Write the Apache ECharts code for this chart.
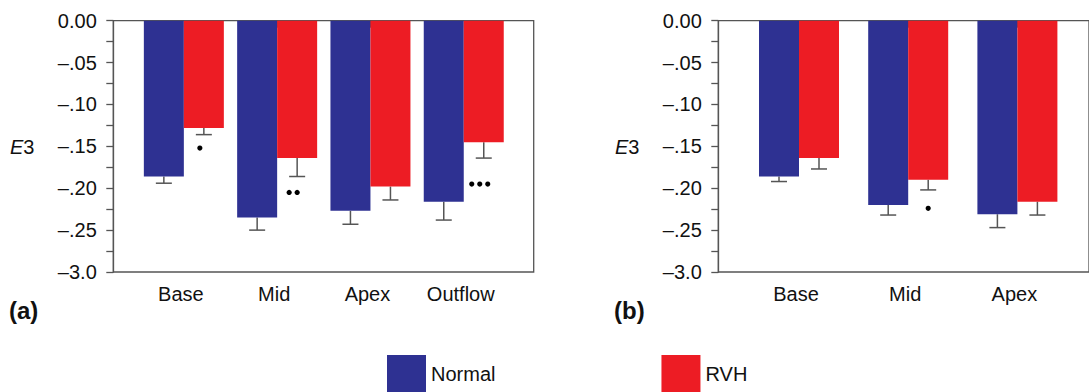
<!DOCTYPE html>
<html>
<head>
<meta charset="utf-8">
<script src="https://cdn.jsdelivr.net/npm/echarts@6/dist/echarts.min.js"></script>
<style>
html, body { margin: 0; padding: 0; background: #fff; }
#chart { width: 1089px; height: 392px; }
</style>
</head>
<body>
<div id="chart"></div>
<script>
// panel (a)
const catsA = ['Base', 'Mid', 'Apex', 'Outflow'];
const normalA = [-0.186, -0.235, -0.227, -0.216];
const normalErrA = [0.008, 0.015, 0.016, 0.022];
const rvhA = [-0.128, -0.164, -0.198, -0.145];
const rvhErrA = [0.008, 0.022, 0.016, 0.019];
const sigCountA = [1, 2, 0, 3];
const sigPosA = [-0.152, -0.205, null, -0.195];

// panel (b)
const catsB = ['Base', 'Mid', 'Apex'];
const normalB = [-0.186, -0.220, -0.231];
const normalErrB = [0.006, 0.012, 0.016];
const rvhB = [-0.164, -0.190, -0.216];
const rvhErrB = [0.013, 0.012, 0.016];
const sigCountB = [0, 1, 0];
const sigPosB = [null, -0.224, null];

const yTickLabels = ['0.00', '–.05', '–.10', '–.15', '–.20', '–.25', '–3.0'];

const BLUE = '#2E3192';
const RED = '#ED1C24';
const LINE = '#555';
const FONT = '"Liberation Sans", Arial, sans-serif';

const chart = echarts.init(document.getElementById('chart'), null, { renderer: 'svg' });

function errorBars(offset) {
	return function (params, api) {
		const i = api.value(0);
		const top = api.coord([i, api.value(1)]);
		const bot = api.coord([i, api.value(1) - api.value(2)]);
		const x = top[0] + offset;
		const style = { stroke: LINE, lineWidth: 1.5 };
		return {
			type: 'group',
			children: [
				{ type: 'line', shape: { x1: x, y1: top[1], x2: x, y2: bot[1] }, style: style },
				{ type: 'line', shape: { x1: x - 8, y1: bot[1], x2: x + 8, y2: bot[1] }, style: style }
			]
		};
	};
}

function sigDots(offset) {
	return function (params, api) {
		const p = api.coord([api.value(0), api.value(1)]);
		const n = api.value(2);
		const children = [];
		for (let k = 0; k < n; k++) {
			children.push({
				type: 'circle',
				shape: { cx: p[0] + offset + (k - (n - 1) / 2) * 8, cy: p[1], r: 2.6 },
				style: { fill: '#000' }
			});
		}
		return { type: 'group', children: children };
	};
}

const errData = (vals, errs) => vals.map((v, i) => [i, v, errs[i]]);
const sigData = (pos, cnt) => pos.map((p, i) => [i, p, cnt[i]]).filter(d => d[1] !== null);

function frameY(gridIndex) {
	return {
		type: 'value', gridIndex: gridIndex, min: -0.3, max: 0, interval: 0.05,
		axisLine: { show: true, lineStyle: { color: LINE, width: 1.3 } },
		axisTick: { show: true, inside: false, length: 7, lineStyle: { color: LINE, width: 1.3 } },
		minorTick: { show: true, splitNumber: 2, length: 7, lineStyle: { color: LINE, width: 1.3 } },
		splitLine: { show: false },
		axisLabel: {
			margin: 16.5, fontSize: 20, fontFamily: FONT, color: '#111',
			formatter: v => yTickLabels[Math.round(-v / 0.05)]
		}
	};
}

function catX(gridIndex, cats) {
	return {
		type: 'category', gridIndex: gridIndex, data: cats,
		axisLine: { show: false },
		axisTick: { show: true, alignWithLabel: true, length: 7, lineStyle: { color: LINE, width: 1.3 } },
		axisLabel: { interval: 0, margin: 12, fontSize: 20, fontFamily: FONT, color: '#111', padding: [0, 6, 0, 0] }
	};
}

const option = {
	backgroundColor: '#fff',
	animation: false,
	grid: [
		{ left: 113.3, top: 20.7, width: 420.4, height: 251.3, show: true, borderColor: LINE, borderWidth: 1.3, backgroundColor: 'transparent' },
		{ left: 137.2, top: 20.7, width: 373.2, height: 251.3 },
		{ left: 718.3, top: 20.7, width: 380, height: 251.3, show: true, borderColor: LINE, borderWidth: 1.3, backgroundColor: 'transparent' },
		{ left: 744.4, top: 20.7, width: 327.6, height: 251.3 }
	],
	xAxis: [
		{ type: 'value', gridIndex: 0, min: 0, max: 1, show: false },
		catX(1, catsA),
		{ type: 'value', gridIndex: 2, min: 0, max: 1, show: false },
		catX(3, catsB)
	],
	yAxis: [
		frameY(0),
		{ type: 'value', gridIndex: 1, min: -0.3, max: 0, show: false },
		frameY(2),
		{ type: 'value', gridIndex: 3, min: -0.3, max: 0, show: false }
	],
	legend: {
		data: ['Normal', 'RVH'],
		left: 387, top: 355, padding: 0,
		itemWidth: 39, itemHeight: 37, itemGap: 166,
		icon: 'rect',
		selectedMode: false,
		textStyle: { fontSize: 20, fontFamily: FONT, color: '#111' }
	},
	graphic: [
		{ type: 'text', left: 10, top: 137, style: { text: '{i|E}3', font: '20px ' + FONT, fill: '#111', rich: { i: { fontStyle: 'italic', fontSize: 20, fontFamily: FONT } } } },
		{ type: 'text', left: 615, top: 137, style: { text: '{i|E}3', font: '20px ' + FONT, fill: '#111', rich: { i: { fontStyle: 'italic', fontSize: 20, fontFamily: FONT } } } },
		{ type: 'text', left: 9, top: 298, style: { text: '(a)', font: 'bold 24px ' + FONT, fill: '#111' } },
		{ type: 'text', left: 614, top: 298, style: { text: '(b)', font: 'bold 24px ' + FONT, fill: '#111' } }
	],
	series: [
		{ name: 'Normal', type: 'bar', xAxisIndex: 1, yAxisIndex: 1, data: normalA, barWidth: 40, barGap: '0%', itemStyle: { color: BLUE } },
		{ name: 'RVH', type: 'bar', xAxisIndex: 1, yAxisIndex: 1, data: rvhA, barWidth: 40, barGap: '0%', itemStyle: { color: RED } },
		{ name: 'errNa', type: 'custom', xAxisIndex: 1, yAxisIndex: 1, data: errData(normalA, normalErrA), renderItem: errorBars(-20), encode: { x: 0, y: 1 } },
		{ name: 'errRa', type: 'custom', xAxisIndex: 1, yAxisIndex: 1, data: errData(rvhA, rvhErrA), renderItem: errorBars(20), encode: { x: 0, y: 1 } },
		{ name: 'sigA', type: 'custom', xAxisIndex: 1, yAxisIndex: 1, data: sigData(sigPosA, sigCountA), renderItem: sigDots(16), encode: { x: 0, y: 1 } },

		{ name: 'Normal', type: 'bar', xAxisIndex: 3, yAxisIndex: 3, data: normalB, barWidth: 40, barGap: '0%', itemStyle: { color: BLUE } },
		{ name: 'RVH', type: 'bar', xAxisIndex: 3, yAxisIndex: 3, data: rvhB, barWidth: 40, barGap: '0%', itemStyle: { color: RED } },
		{ name: 'errNb', type: 'custom', xAxisIndex: 3, yAxisIndex: 3, data: errData(normalB, normalErrB), renderItem: errorBars(-20), encode: { x: 0, y: 1 } },
		{ name: 'errRb', type: 'custom', xAxisIndex: 3, yAxisIndex: 3, data: errData(rvhB, rvhErrB), renderItem: errorBars(20), encode: { x: 0, y: 1 } },
		{ name: 'sigB', type: 'custom', xAxisIndex: 3, yAxisIndex: 3, data: sigData(sigPosB, sigCountB), renderItem: sigDots(20), encode: { x: 0, y: 1 } }
	]
};

chart.setOption(option);
</script>
</body>
</html>
